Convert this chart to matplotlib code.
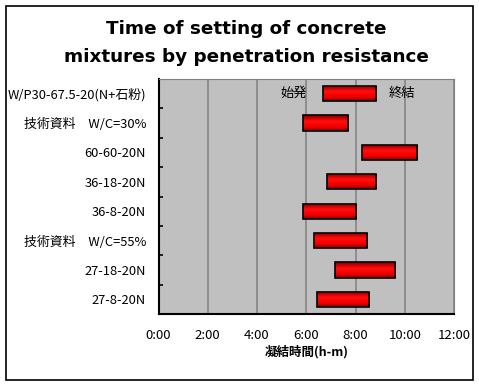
import matplotlib.pyplot as plt
import numpy as np
from matplotlib.colors import LinearSegmentedColormap
from matplotlib.patches import Rectangle

plt.rcParams["font.family"] = ["Noto Sans CJK JP", "DejaVu Sans"]

# rows listed bottom to top
LABELS = [
    "27-8-20N",
    "27-18-20N",
    "技術資料　W/C=55%",
    "36-8-20N",
    "36-18-20N",
    "60-60-20N",
    "技術資料　W/C=30%",
    "W/P30-67.5-20(N+石粉)",
]
# initial set / final set, hours
START_H = [6.42, 7.15, 6.30, 5.85, 6.83, 8.25, 5.85, 6.67]
END_H = [8.55, 9.60, 8.47, 8.02, 8.83, 10.50, 7.70, 8.83]

X_TICKS = [0, 2, 4, 6, 8, 10, 12]
X_TICK_LABELS = ["0:00", "2:00", "4:00", "6:00", "8:00", "10:00", "12:00"]

BAR_H = 0.52
red_cmap = LinearSegmentedColormap.from_list(
    "barred", ["#7a0000", "#e00000", "#ff0000", "#ff1010", "#d00000", "#7a0000"]
)

fig = plt.figure(figsize=(4.79, 3.86), dpi=100)
fig.patches.append(Rectangle((6 / 479, 6 / 386), 467 / 479, 374 / 386,
                             transform=fig.transFigure, fill=False,
                             edgecolor="black", linewidth=1.2))

ax = fig.add_axes([158.5 / 479, 1 - 314 / 386, 295.5 / 479, 235 / 386])
ax.set_facecolor("#c0c0c0")

grad = np.linspace(0, 1, 64).reshape(-1, 1)
for i, (s, e) in enumerate(zip(START_H, END_H)):
    rect = Rectangle((s, i - BAR_H / 2), e - s, BAR_H, facecolor="none",
                     edgecolor="black", linewidth=1.2, zorder=4)
    ax.add_patch(rect)
    img = ax.imshow(grad, cmap=red_cmap, aspect="auto",
                    extent=(s, e, i + BAR_H / 2, i - BAR_H / 2),
                    zorder=3, interpolation="bilinear")
    img.set_clip_path(rect)

ax.set_xlim(0, 12)
ax.set_ylim(-0.5, len(LABELS) - 0.5)
ax.set_xticks(X_TICKS)
ax.set_xticklabels(X_TICK_LABELS, fontsize=9.5)
ax.grid(True, axis="x", color="#808080", linewidth=1.1)
ax.set_axisbelow(True)
ax.tick_params(axis="x", length=0, pad=11)

ax.set_yticks(np.arange(len(LABELS)))
ax.set_yticklabels(LABELS, fontsize=9.3)
ax.set_yticks(np.arange(len(LABELS) - 1) + 0.5, minor=True)
ax.tick_params(axis="y", which="major", length=0, pad=9)
ax.tick_params(axis="y", which="minor", length=3, direction="in", width=1.2)

for side in ("top", "right"):
    ax.spines[side].set_color("#808080")
for side in ("left", "bottom"):
    ax.spines[side].set_color("black")
    ax.spines[side].set_linewidth(1.5)

top = len(LABELS) - 1
ax.text(START_H[top] - 0.65, top, "始発", ha="right", va="center", fontsize=9.5)
ax.text(END_H[top] + 0.5, top, "終結", ha="left", va="center", fontsize=9.5)

ax.set_xlabel("凝結時間(h-m)", fontsize=9, fontweight="bold", labelpad=2)

fig.text(246 / 479, 1 - 29 / 386, "Time of setting of concrete", ha="center",
         va="center", fontsize=13.2, fontweight="bold", family="DejaVu Sans")
fig.text(246 / 479, 1 - 57 / 386, "mixtures by penetration resistance", ha="center",
         va="center", fontsize=13.2, fontweight="bold", family="DejaVu Sans")

fig.savefig("out.png", dpi=100)
